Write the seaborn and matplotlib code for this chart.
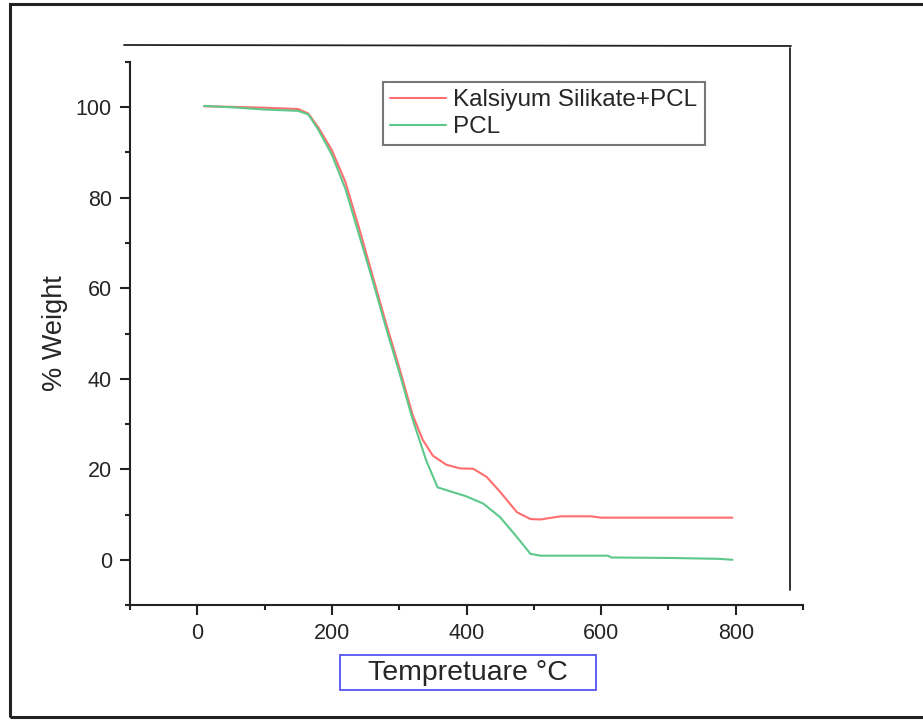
import matplotlib
matplotlib.use("Agg")
import matplotlib.pyplot as plt
import seaborn as sns
import pandas as pd
from matplotlib.patches import Rectangle
from matplotlib.lines import Line2D
from matplotlib.ticker import MultipleLocator

# ---- data ----
red_temp = [10, 50, 100, 150, 165, 180, 200, 220, 240, 260, 280, 300, 320, 335, 350,
            370, 390, 410, 430, 450, 475, 495, 510, 540, 585, 600, 700, 795]
red_weight = [100.2, 100.1, 99.9, 99.6, 98.6, 95.5, 90.5, 83.5, 73.5, 63, 52.5, 42.5, 32,
              26.5, 23, 21, 20.2, 20.1, 18.3, 15, 10.5, 9, 8.9, 9.6, 9.6, 9.3, 9.3, 9.3]
green_temp = [10, 50, 100, 150, 165, 180, 200, 220, 240, 260, 280, 300, 320, 340, 357,
              400, 425, 450, 475, 495, 510, 610, 615, 700, 775, 795]
green_weight = [100.3, 100, 99.5, 99.2, 98.4, 95, 89.5, 82, 72, 62, 51.5, 41.5, 31, 22, 16,
                14, 12.4, 9.4, 5, 1.3, 0.9, 0.9, 0.5, 0.4, 0.2, 0]
series_names = ["Kalsiyum Silikate+PCL", "PCL"]
x_ticks = [0, 200, 400, 600, 800]
y_ticks = [0, 20, 40, 60, 80, 100]

sns.set_style("ticks")
plt.rcParams["font.family"] = ["Liberation Sans", "DejaVu Sans"]

W, H = 923, 722
fig = plt.figure(figsize=(W / 100, H / 100), dpi=100)

def fx(px):
    return px / W

def fy(py):
    return 1 - py / H

ax = fig.add_axes([fx(130), fy(605), fx(803) - fx(130), fy(62) - fy(605)])

red_df = pd.DataFrame({"t": red_temp, "w": red_weight})
green_df = pd.DataFrame({"t": green_temp, "w": green_weight})
red_c = "#ff6e6e"
green_c = "#5cc88a"
sns.lineplot(data=red_df, x="t", y="w", ax=ax, color=red_c, lw=1.5, label=series_names[0], sort=False)
sns.lineplot(data=green_df, x="t", y="w", ax=ax, color=green_c, lw=1.5, label=series_names[1], sort=False)

ax.set_xlim(-100, 900)
ax.set_ylim(-10, 110)
ax.set_xticks(x_ticks)
ax.set_yticks(y_ticks)
ax.xaxis.set_minor_locator(MultipleLocator(100))
ax.yaxis.set_minor_locator(MultipleLocator(10))
for s in ["top", "right"]:
    ax.spines[s].set_visible(False)
for s in ["left", "bottom"]:
    ax.spines[s].set_linewidth(1.5)
    ax.spines[s].set_color("#222222")
ax.tick_params(which="major", length=7, width=1.5, color="#222222", labelsize=15.5, pad=6)
ax.tick_params(which="minor", length=3.5, width=1.5, color="#222222")
ax.set_xlabel("")
ax.set_ylabel("")

leg = ax.legend(loc="upper left", bbox_to_anchor=(fx(383), fy(82)), bbox_transform=fig.transFigure,
                fontsize=17.5, frameon=True, fancybox=False, handlelength=2.3, handletextpad=0.3,
                labelspacing=0.2, borderpad=0.3, borderaxespad=0)
leg.get_frame().set_edgecolor("#555555")
leg.get_frame().set_linewidth(1.5)

# axis titles
fig.text(fx(468), fy(673), "Tempretuare °C", ha="center", va="center", fontsize=20.5)
fig.patches.append(Rectangle((fx(340), fy(690)), fx(596) - fx(340), fy(655) - fy(690),
                             transform=fig.transFigure, fill=False, edgecolor="#5555ee", lw=1.3))
fig.text(fx(55), fy(333), "% Weight", ha="center", va="center", rotation=90, fontsize=19.5)

# decorative frame lines
fig.lines.append(Line2D([fx(124), fx(791)], [fy(45), fy(46)], transform=fig.transFigure, color="#222222", lw=1.3))
fig.lines.append(Line2D([fx(790), fx(790)], [fy(48), fy(590)], transform=fig.transFigure, color="#222222", lw=1.3))
fig.patches.append(Rectangle((fx(10), fy(717)), fx(940) - fx(10), fy(4) - fy(717),
                             transform=fig.transFigure, fill=False, edgecolor="#222222", lw=2.2))

fig.savefig("out.png", dpi=100)
